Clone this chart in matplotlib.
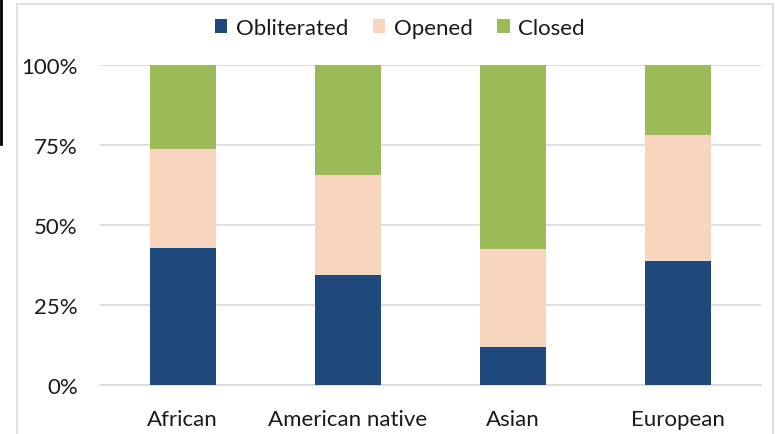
import matplotlib
matplotlib.use("Agg")
import matplotlib.pyplot as plt
from matplotlib.patches import Rectangle
from matplotlib.lines import Line2D
from matplotlib.ticker import FixedLocator

categories = ["African", "American native", "Asian", "European"]
obliterated = [42.8, 34.4, 11.9, 38.8]
opened = [31.0, 31.2, 30.6, 39.3]
closed = [26.2, 34.4, 57.5, 21.9]
series_names = ["Obliterated", "Opened", "Closed"]
colors = ["#1F497D", "#F8D5BE", "#9BBB59"]
yticks = [0, 25, 50, 75, 100]
ytick_labels = ["0%", "25%", "50%", "75%", "100%"]

plt.rcParams["font.family"] = ["Lato", "DejaVu Sans"]

W, H = 777, 435
fig = plt.figure(figsize=(W / 100, H / 100), dpi=100)
ax = fig.add_axes([100 / W, 1 - 386 / H, 661 / W, 320 / H])

x = list(range(len(categories)))
bottom = [0.0] * len(categories)
for name, vals, c in zip(series_names, [obliterated, opened, closed], colors):
    ax.bar(x, vals, bottom=bottom, width=0.4, color=c, label=name, zorder=3)
    bottom = [b + v for b, v in zip(bottom, vals)]

ax.set_xlim(-0.5, len(categories) - 0.5)
ax.set_ylim(0, 100)
ax.yaxis.set_major_locator(FixedLocator(yticks))
ax.set_yticklabels(ytick_labels)
ax.set_xticks(x)
ax.set_xticklabels(categories)
ax.tick_params(axis="both", length=0, labelsize=16, colors="#1A1A1A")
ax.tick_params(axis="y", pad=16)
ax.tick_params(axis="x", pad=17)
ax.grid(axis="y", color="#D9D9D9", linewidth=1.2, zorder=0)
for s in ["top", "right", "left"]:
    ax.spines[s].set_visible(False)
ax.spines["bottom"].set_color("#D9D9D9")
ax.spines["bottom"].set_linewidth(1.2)

leg = fig.legend(loc="center", bbox_to_anchor=(400 / W, 1 - 29 / H), ncol=3,
                 frameon=False, fontsize=16, handlelength=0.55, handleheight=0.55,
                 handletextpad=0.4, columnspacing=1.1)
for t in leg.get_texts():
    t.set_color("#1A1A1A")

# chart frame and edge line
fig.patches.append(Rectangle((17 / W, -0.1), (773 - 17) / W, 1 - 5 / H + 0.1,
                             transform=fig.transFigure, fill=False,
                             edgecolor="#D9D9D9", linewidth=1.2))
fig.lines.append(Line2D([1 / W, 1 / W], [1, 1 - 145 / H], transform=fig.transFigure,
                        color="black", linewidth=2))

fig.savefig("out.png", dpi=100)
